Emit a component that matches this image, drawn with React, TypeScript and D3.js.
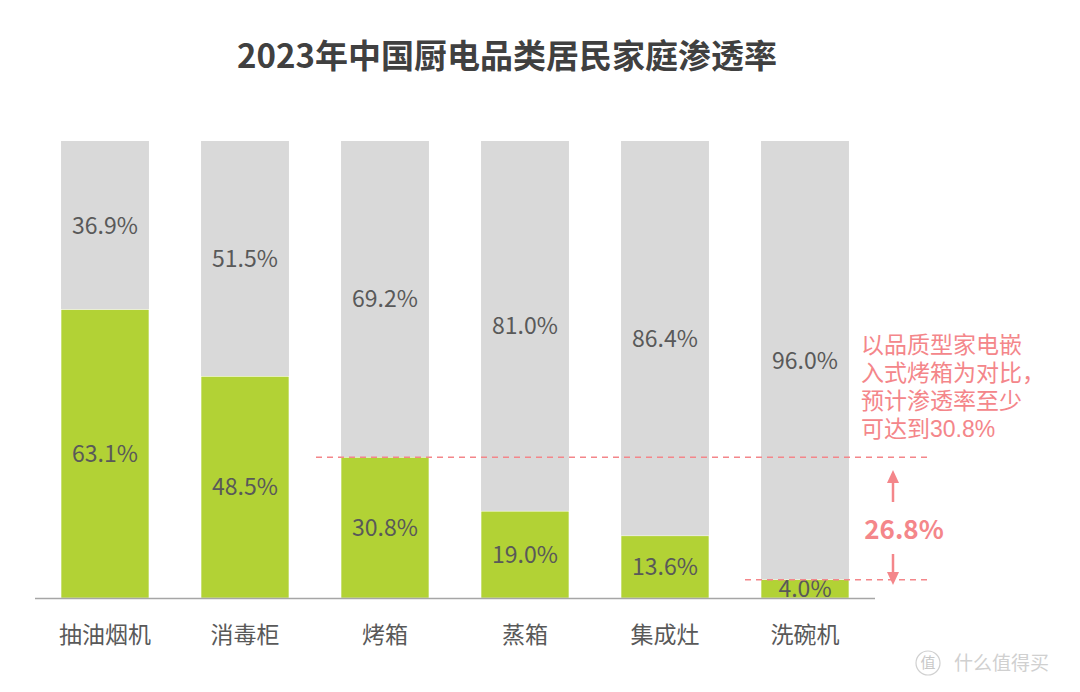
import React from "react";
import * as d3 from "d3";

const categories = ["抽油烟机", "消毒柜", "烤箱", "蒸箱", "集成灶", "洗碗机"];
const penetration = [63.1, 48.5, 30.8, 19.0, 13.6, 4.0];
const remainder = [36.9, 51.5, 69.2, 81.0, 86.4, 96.0];
const titleText = "2023年中国厨电品类居民家庭渗透率";
const noteLines = ["以品质型家电嵌", "入式烤箱为对比，", "预计渗透率至少", "可达到30.8%"];
const gapLabel = "26.8%";
const refHigh = 30.8;
const refLow = 4.0;

const W = 1080;
const H = 692;
const FONT = "'Noto Sans CJK SC', 'Noto Sans', sans-serif";
const NOTE_FONT = "'Liberation Sans', 'Noto Sans CJK SC', sans-serif";
const GREEN = "#B2D235";
const GREY = "#D9D9D9";
const PINK = "#F4868A";
const TEXT = "#595959";

export default function App() {
  const x = d3.scaleBand<string>().domain(categories).range([35, 875]).paddingInner(0.372).paddingOuter(0.186);
  const y = d3.scaleLinear().domain([0, 100]).range([598, 141]);
  const bw = x.bandwidth();

  return (
    <svg width={W} height={H} style={{ position: "absolute", left: 0, top: 0, background: "#fff" }} fontFamily={FONT}>
      <rect width={W} height={H} fill="#fff" />
      <text x={507} y={56} dy="0.36em" textAnchor="middle" fontSize={33} fontWeight="bold" fill="#404040">{titleText}</text>
      {categories.map((c, i) => {
        const x0 = x(c)!;
        const g = penetration[i];
        const r = remainder[i];
        return (
          <g key={c}>
            <rect x={x0} y={y(g + r)} width={bw} height={y(g) - y(g + r)} fill={GREY} />
            <rect x={x0} y={y(g)} width={bw} height={y(0) - y(g)} fill={GREEN} stroke="#fff" strokeWidth={0.5} />
            <text x={x0 + bw / 2} y={(y(g + r) + y(g)) / 2} dy="0.36em" textAnchor="middle" fontSize={23} fill={TEXT}>{r.toFixed(1)}%</text>
            <text x={x0 + bw / 2} y={(y(g) + y(0)) / 2} dy="0.36em" textAnchor="middle" fontSize={23} fill={TEXT}>{g.toFixed(1)}%</text>
            <text x={x0 + bw / 2} y={635} dy="0.36em" textAnchor="middle" fontSize={23} fill={TEXT}>{c}</text>
          </g>
        );
      })}
      <line x1={35} x2={875} y1={598.5} y2={598.5} stroke="#A6A6A6" strokeWidth={1.5} />
      <line x1={316} x2={930} y1={y(refHigh)} y2={y(refHigh)} stroke={PINK} strokeWidth={1.5} strokeDasharray="6 5" />
      <line x1={745} x2={930} y1={y(refLow)} y2={y(refLow)} stroke={PINK} strokeWidth={1.5} strokeDasharray="6 5" />
      {/* up arrow */}
      <line x1={893} x2={893} y1={502} y2={480} stroke={PINK} strokeWidth={2.5} />
      <path d={`M887,483 L893,470 L899,483 Z`} fill={PINK} />
      {/* down arrow */}
      <line x1={893} x2={893} y1={554} y2={575} stroke={PINK} strokeWidth={2.5} />
      <path d={`M887,572 L893,585 L899,572 Z`} fill={PINK} />
      <text x={904} y={530} dy="0.36em" textAnchor="middle" fontSize={26} fontWeight="bold" fill={PINK}>{gapLabel}</text>
      {noteLines.map((l, i) => (
        <text key={i} x={861} y={345 + i * 27.8} dy="0.36em" fontSize={23} fontFamily={NOTE_FONT} fill={PINK}>{l}</text>
      ))}
      {/* watermark */}
      <circle cx={928} cy={663} r={12} fill="none" stroke="#D0D0D0" strokeWidth={1.2} />
      <text x={928} y={663} dy="0.36em" textAnchor="middle" fontSize={15} fill="#C8C8C8">值</text>
      <text x={954} y={663} dy="0.36em" fontSize={19} fill="#D0D0D0">什么值得买</text>
    </svg>
  );
}
